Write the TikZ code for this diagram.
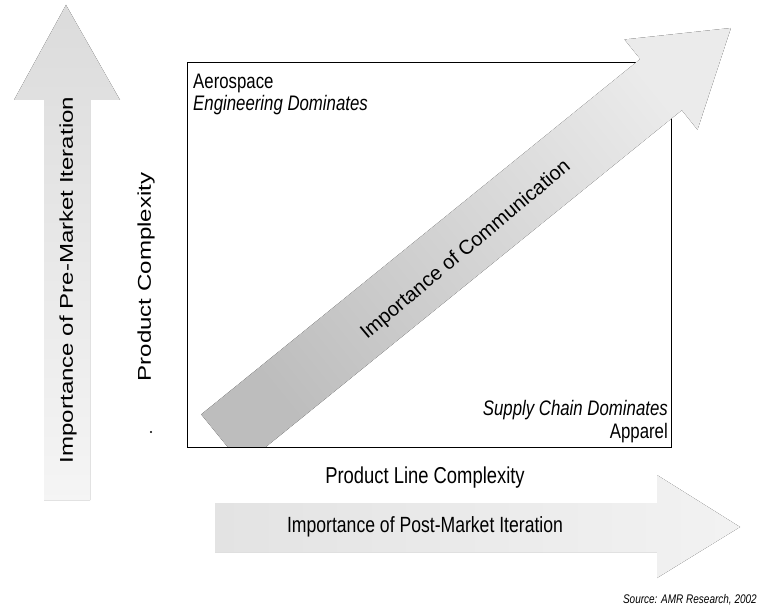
\documentclass[tikz,border=0pt]{standalone}
\usepackage{fontspec}
\setmainfont{Liberation Sans}
\newfontfamily\tallfont{Liberation Sans}[FakeStretch=0.8]
\newfontfamily\widefont{Liberation Sans}[FakeStretch=1.3]
\begin{document}
\begin{tikzpicture}[x=1pt,y=-1pt,
  plain/.style={font=\tallfont\fontsize{21}{24}\selectfont, inner sep=0pt},
  slanted/.style={font=\tallfont\fontsize{21}{24}\selectfont\itshape, inner sep=0pt},
  axis/.style={font=\tallfont\fontsize{23}{26}\selectfont, inner sep=0pt},
  upright/.style={font=\widefont\fontsize{18.5}{21}\selectfont, inner sep=0pt, rotate=90}]
\useasboundingbox (0,0) rectangle (762,609);

% big grey arrows
\fill[top color=gray!28, middle color=gray!48, bottom color=gray!8]
  (44,500) -- (44,100) -- (14,100) -- (66,5) -- (120,100) -- (90,100) -- (90,500) -- cycle;
\fill[left color=gray!22, middle color=gray!48, right color=gray!10]
  (215,503) -- (657,503) -- (657,475) -- (740,527) -- (657,578) -- (657,552) -- (215,552) -- cycle;

% the matrix
\draw[line width=0.8pt] (187,62) rectangle (671,447);

\begin{scope}
\clip (0,0) rectangle (762,446);
\fill[shading=axis, bottom color=gray!52, middle color=gray!38, top color=gray!16, shading angle=-51]
  (201.2,414.4) -- (640.2,59.0) -- (624.5,39.5) -- (730.9,28.0) -- (697.5,129.7)
  -- (681.8,110.2) -- (242.8,465.6) -- cycle;
\end{scope}

\node[upright] (pre) at (68,280) {Importance of Pre-Market Iteration};
\node[upright] (pc) at (146,277) {Product Complexity};
\fill (151,432) circle (1.2);

\node[plain, anchor=west] (aero) at (193,83) {Aerospace};
\node[slanted, anchor=west] (eng) at (193,105) {Engineering Dominates};
\node[slanted, anchor=east] (sup) at (668,410) {Supply Chain Dominates};
\node[plain, anchor=east] (app) at (668,433) {Apparel};

\node[font=\fontsize{20}{23}\selectfont, inner sep=0pt, rotate=40] (comm) at (466,250) {Importance of Communication};

\node[axis] (plc) at (425,478) {Product Line Complexity};
\node[font=\tallfont\fontsize{22}{25}\selectfont, inner sep=0pt] (post) at (425,527) {Importance of Post-Market Iteration};

\node[font=\tallfont\fontsize{12.5}{14}\selectfont\itshape, inner sep=0pt, anchor=east] (src) at (757,600) {Source: AMR Research, 2002};
\end{tikzpicture}
\end{document}
